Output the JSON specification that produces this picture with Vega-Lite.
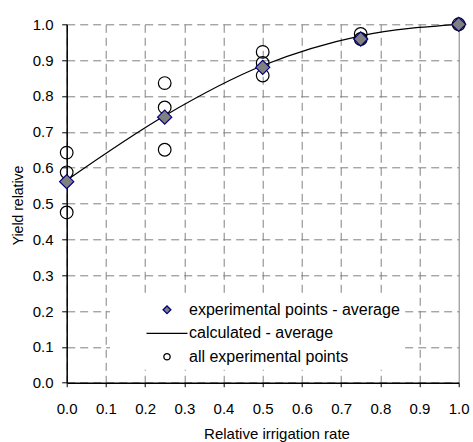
{
  "$schema": "https://vega.github.io/schema/vega-lite/v6.json",
  "width": 392,
  "height": 358.4,
  "autosize": {"type": "none"},
  "padding": {"left": 66.7, "top": 24.3, "right": 14.3, "bottom": 59.3},
  "background": "white",
  "config": {
    "view": {"stroke": null},
    "font": "Liberation Sans",
    "axis": {
      "grid": true,
      "gridColor": "#808080",
      "gridDash": [8, 5],
      "gridWidth": 1,
      "domainColor": "black",
      "domainWidth": 1.5,
      "tickColor": "black",
      "tickWidth": 1,
      "labelFont": "Liberation Sans",
      "labelFontSize": 15,
      "labelColor": "black",
      "labelFlush": false,
      "titleFont": "Liberation Sans",
      "titleFontWeight": "normal",
      "titleColor": "black"
    },
    "legend": {
      "orient": "none",
      "legendX": 43.3,
      "legendY": 272.5,
      "fillColor": "white",
      "padding": 5,
      "rowPadding": 7.5,
      "labelFont": "Liberation Sans",
      "labelFontSize": 16,
      "labelColor": "black",
      "labelLimit": 400,
      "symbolSize": 50,
      "symbolStrokeWidth": 1.3,
      "symbolOffset": 44,
      "labelOffset": 14
    }
  },
  "datasets": {
    "all": [
      {"x": 0, "y": 0.642, "series": "all experimental points"},
      {"x": 0, "y": 0.587, "series": "all experimental points"},
      {"x": 0, "y": 0.475, "series": "all experimental points"},
      {"x": 0.25, "y": 0.836, "series": "all experimental points"},
      {"x": 0.25, "y": 0.768, "series": "all experimental points"},
      {"x": 0.25, "y": 0.65, "series": "all experimental points"},
      {"x": 0.5, "y": 0.923, "series": "all experimental points"},
      {"x": 0.5, "y": 0.892, "series": "all experimental points"},
      {"x": 0.5, "y": 0.857, "series": "all experimental points"},
      {"x": 0.75, "y": 0.973, "series": "all experimental points"},
      {"x": 0.75, "y": 0.959, "series": "all experimental points"},
      {"x": 1, "y": 1.0, "series": "all experimental points"}
    ],
    "calc": [
      {"x": 0, "y": 0.565, "series": "calculated - average"},
      {"x": 0.25, "y": 0.745, "series": "calculated - average"},
      {"x": 0.5, "y": 0.885, "series": "calculated - average"},
      {"x": 0.75, "y": 0.968, "series": "calculated - average"},
      {"x": 1, "y": 1.0, "series": "calculated - average"}
    ],
    "avg": [
      {"x": 0, "y": 0.561, "series": "experimental points - average"},
      {"x": 0.25, "y": 0.741, "series": "experimental points - average"},
      {"x": 0.5, "y": 0.88, "series": "experimental points - average"},
      {"x": 0.75, "y": 0.959, "series": "experimental points - average"},
      {"x": 1, "y": 1.0, "series": "experimental points - average"}
    ]
  },
  "encoding": {
    "x": {
      "field": "x",
      "type": "quantitative",
      "scale": {"domain": [0, 1], "nice": false, "zero": false},
      "axis": {
        "title": "Relative irrigation rate",
        "titleFontSize": 15,
        "titleX": 209.8,
        "titleY": 44,
        "titleAlign": "center",
        "titleBaseline": "top",
        "values": [0, 0.1, 0.2, 0.3, 0.4, 0.5, 0.6, 0.7, 0.8, 0.9, 1.0],
        "format": ".1f",
        "tickSize": 4,
        "labelPadding": 15,
        "gridDash": {"condition": {"test": "datum.value === 1", "value": []}, "value": [8, 5]}
      }
    },
    "y": {
      "field": "y",
      "type": "quantitative",
      "scale": {"domain": [0, 1], "nice": false},
      "axis": {
        "title": "Yield relative",
        "titleFontSize": 14,
        "titleAngle": -90,
        "titleX": -43.7,
        "titleY": 180.7,
        "titleAlign": "center",
        "titleBaseline": "alphabetic",
        "values": [0, 0.1, 0.2, 0.3, 0.4, 0.5, 0.6, 0.7, 0.8, 0.9, 1.0],
        "format": ".1f",
        "tickSize": 5,
        "labelPadding": 8.7
      }
    }
  },
  "layer": [
    {
      "data": {"name": "all"},
      "mark": {"type": "point", "size": 160, "strokeWidth": 1.2, "opacity": 1},
      "encoding": {
        "shape": {"field": "series", "type": "nominal",
          "scale": {"domain": ["experimental points - average", "calculated - average", "all experimental points"], "range": ["diamond", "stroke", "circle"]},
          "legend": {"title": null, "encode": {"symbols": {"update": {"size": {"signal": "datum.value === 'calculated - average' ? 1681 : (datum.value === 'experimental points - average' ? 60 : 40)"}}}}}},
        "fill": {"field": "series", "type": "nominal",
          "scale": {"domain": ["experimental points - average", "calculated - average", "all experimental points"], "range": ["#808080", "transparent", "transparent"]},
          "legend": {"title": null, "encode": {"symbols": {"update": {"size": {"signal": "datum.value === 'calculated - average' ? 1681 : (datum.value === 'experimental points - average' ? 60 : 40)"}}}}}},
        "stroke": {"field": "series", "type": "nominal",
          "scale": {"domain": ["experimental points - average", "calculated - average", "all experimental points"], "range": ["#000080", "black", "black"]},
          "legend": {"title": null, "encode": {"symbols": {"update": {"size": {"signal": "datum.value === 'calculated - average' ? 1681 : (datum.value === 'experimental points - average' ? 60 : 40)"}}}}}}
      }
    },
    {
      "data": {"name": "calc"},
      "mark": {"type": "line", "strokeWidth": 1.3, "interpolate": "monotone"},
      "encoding": {
        "stroke": {"field": "series", "type": "nominal", "legend": {"title": null, "encode": {"symbols": {"update": {"size": {"signal": "datum.value === 'calculated - average' ? 1681 : (datum.value === 'experimental points - average' ? 60 : 40)"}}}}}}
      }
    },
    {
      "data": {"name": "avg"},
      "mark": {"type": "point", "size": 200, "strokeWidth": 1.2, "opacity": 1},
      "encoding": {
        "shape": {"field": "series", "type": "nominal", "legend": {"title": null, "encode": {"symbols": {"update": {"size": {"signal": "datum.value === 'calculated - average' ? 1681 : (datum.value === 'experimental points - average' ? 60 : 40)"}}}}}},
        "fill": {"field": "series", "type": "nominal", "legend": {"title": null, "encode": {"symbols": {"update": {"size": {"signal": "datum.value === 'calculated - average' ? 1681 : (datum.value === 'experimental points - average' ? 60 : 40)"}}}}}},
        "stroke": {"field": "series", "type": "nominal", "legend": {"title": null, "encode": {"symbols": {"update": {"size": {"signal": "datum.value === 'calculated - average' ? 1681 : (datum.value === 'experimental points - average' ? 60 : 40)"}}}}}}
      }
    }
  ]
}
